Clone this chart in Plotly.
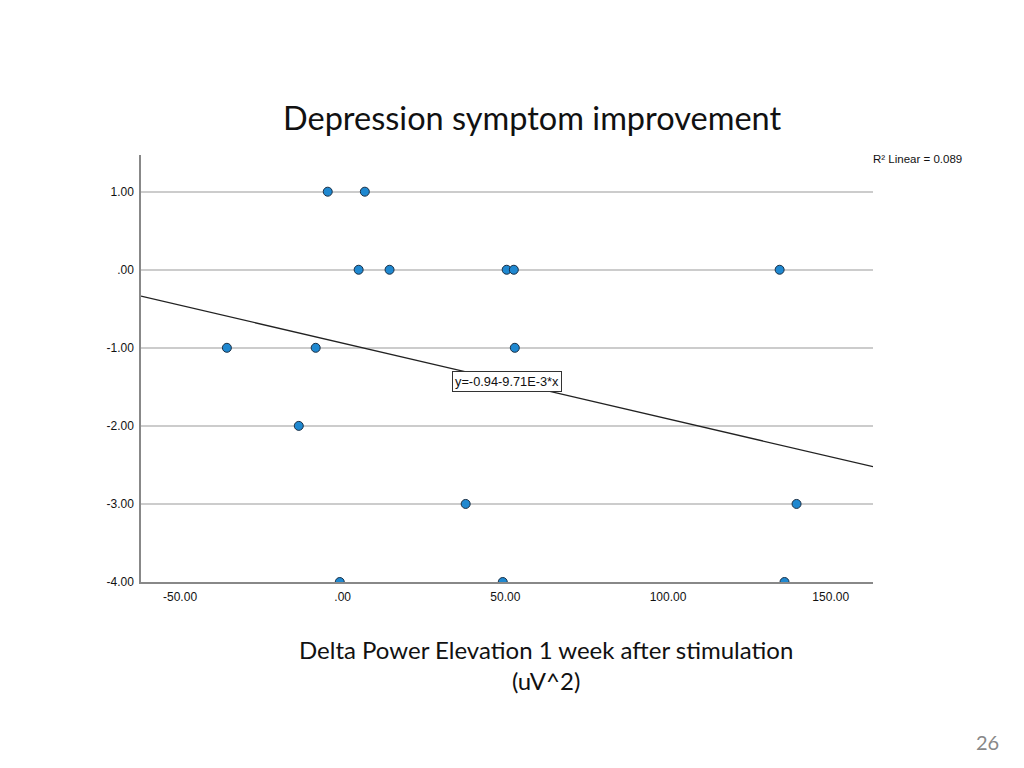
import plotly.graph_objects as go

# Data
delta_power = [-4.6, 6.8, 4.9, 14.4, 50.4, 52.6, 134.3, -35.6, -8.3, 52.9, -13.5, 37.8, 139.5, -0.9, 49.2, 135.8]
symptom_change = [1, 1, 0, 0, 0, 0, 0, -1, -1, -1, -2, -3, -3, -4, -4, -4]
fit_intercept = -0.94
fit_slope = -9.71e-3
r_squared = 0.089
x_tick_vals = [-50, 0, 50, 100, 150]
x_tick_text = ["-50.00", ".00", "50.00", "100.00", "150.00"]
y_tick_vals = [1, 0, -1, -2, -3, -4]
y_tick_text = ["1.00", ".00", "-1.00", "-2.00", "-3.00", "-4.00"]
x_range = [-62, 163]
y_range = [-4, 1.47]

fit_x = x_range
fit_y = [fit_intercept + fit_slope * v for v in fit_x]

# page body has an 8px margin; plot area target: x 141..873, y 155..582 on screen
fig = go.Figure()
fig.add_trace(go.Scatter(x=fit_x, y=fit_y, mode="lines",
                         line=dict(color="#222222", width=1.3), hoverinfo="skip"))
fig.add_trace(go.Scatter(x=delta_power, y=symptom_change, mode="markers",
                         marker=dict(color="#1f88d0", size=9,
                                     line=dict(color="#1a2f45", width=1))))

fig.update_layout(
    width=1024, height=768,
    margin=dict(l=133, r=159, t=147, b=194),
    paper_bgcolor="white", plot_bgcolor="white",
    showlegend=False,
    font=dict(family="Arial, Liberation Sans", color="#111111", size=12),
)
fig.update_xaxes(range=x_range, tickvals=x_tick_vals, ticktext=x_tick_text,
                 showgrid=False, zeroline=False, showline=True,
                 linecolor="#888888", linewidth=1.5, ticks="", ticklabelstandoff=3,
                 tickfont=dict(size=12, family="Arial, Liberation Sans"))
fig.update_yaxes(range=y_range, tickvals=y_tick_vals, ticktext=y_tick_text,
                 showgrid=True, gridcolor="#cccccc", gridwidth=1.5, zeroline=False,
                 showline=True, linecolor="#888888", linewidth=1.5, ticks="",
                 ticklabelstandoff=3,
                 tickfont=dict(size=12, family="Arial, Liberation Sans"))

def px(sx):
    return (sx - 141) / 732

def py(sy):
    return (582 - sy) / 427

fig.add_annotation(text="Depression symptom improvement", xref="paper", yref="paper",
                   x=px(532), y=py(118), yanchor="middle",
                   xanchor="center", showarrow=False,
                   font=dict(family="Lato, Open Sans", size=32.5, color="#111111"))
fig.add_annotation(text="Delta Power Elevation 1 week after stimulation<br>(uV^2)",
                   xref="paper", yref="paper", x=px(546),
                   y=py(665), yanchor="middle", xanchor="center",
                   showarrow=False, align="center",
                   font=dict(family="Lato, Open Sans", size=24, color="#111111"))
fig.add_annotation(text="R² Linear = %.3f" % r_squared, xref="paper", yref="paper",
                   x=px(918), y=py(159), xanchor="center",
                   yanchor="middle", showarrow=False,
                   font=dict(family="Arial, Liberation Sans", size=11.5, color="#111111"))
fig.add_annotation(text="y=-0.94-9.71E-3*x", x=50.5, y=fit_intercept + fit_slope * 50.5,
                   xref="x", yref="y", showarrow=False, bgcolor="white",
                   bordercolor="#333333", borderwidth=1, borderpad=2,
                   font=dict(family="Arial, Liberation Sans", size=12.8, color="#111111"))
fig.add_annotation(text="26", xref="paper", yref="paper",
                   x=px(987), y=py(742), xanchor="center",
                   yanchor="middle", showarrow=False,
                   font=dict(family="Lato, Open Sans", size=20, color="#888888"))

fig.write_html("out.html")
